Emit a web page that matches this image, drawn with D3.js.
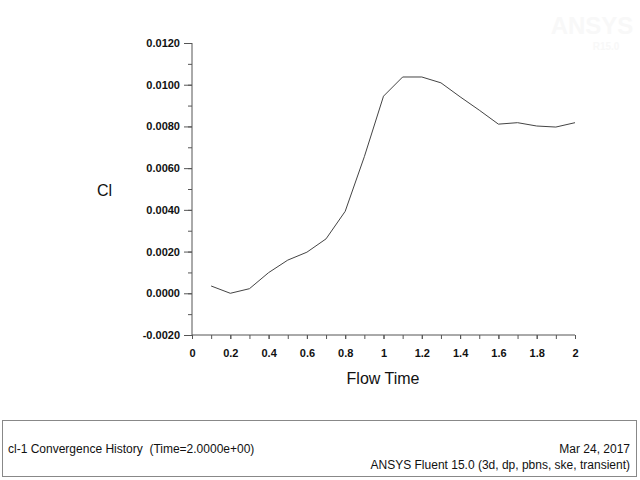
<!DOCTYPE html>
<html>
<head>
<meta charset="utf-8">
<script src="https://cdn.jsdelivr.net/npm/d3@7"></script>
<style>
  body { margin: 0; background: #fff; }
  text { font-family: "Liberation Sans", Arial, sans-serif; }
</style>
</head>
<body>
<svg id="chart" width="640" height="480"></svg>
<script>
// cl-1 history
var flowTime = [0.1, 0.2, 0.3, 0.4, 0.5, 0.6, 0.7, 0.8, 0.9, 1.0,
                1.1, 1.2, 1.3, 1.4, 1.5, 1.6, 1.7, 1.8, 1.9, 2.0];
var clValues = [0.00035, 0.0000, 0.00022, 0.00099, 0.00159, 0.00197, 0.00261, 0.00393, 0.00655, 0.00945,
                0.01037, 0.01037, 0.01009, 0.00942, 0.00878, 0.00811, 0.00818, 0.00802, 0.00797, 0.00818];
var xTicks = [0, 0.2, 0.4, 0.6, 0.8, 1, 1.2, 1.4, 1.6, 1.8, 2];
var yTicks = [-0.002, 0, 0.002, 0.004, 0.006, 0.008, 0.010, 0.012];

var svg = d3.select('#chart');
var axisColor = '#555';

var x = d3.scaleLinear().domain([0, 2]).range([192, 575]);
var y = d3.scaleLinear().domain([-0.002, 0.012]).range([335, 43]);

// faint logo watermark
svg.append('text').attr('x', 592).attr('y', 34).attr('text-anchor', 'middle')
  .attr('font-size', 24).attr('font-weight', 'bold').attr('fill', '#f8f8f8').text('ANSYS');
svg.append('text').attr('x', 606).attr('y', 50).attr('text-anchor', 'middle')
  .attr('font-size', 10).attr('font-weight', 'bold').attr('fill', '#f8f8f8').text('R15.0');

// minor ticks
var xMinor = d3.range(0, 21).map(d => d / 10);
var yMinor = d3.range(-2, 13).map(d => d / 1000);
var fmtY = d => d3.format('.4f')(d).replace('\u2212', '-');

var gx = svg.append('g').attr('transform', 'translate(0,335)');
gx.call(d3.axisBottom(x).tickValues(xMinor).tickSize(4).tickFormat(''));
gx.append('g').call(d3.axisBottom(x).tickValues(xTicks).tickSize(4).tickPadding(10)
  .tickFormat(d3.format('~g')));
gx.selectAll('path, line').attr('stroke', axisColor);
gx.selectAll('.domain').remove();
gx.selectAll('text').attr('font-size', 11).attr('font-weight', 'bold')
  .attr('fill', '#111').attr('font-family', '"Liberation Sans", Arial, sans-serif');

var gy = svg.append('g').attr('transform', 'translate(192,0)');
gy.call(d3.axisLeft(y).tickValues(yMinor).tickSize(4).tickFormat(''));
gy.append('g').call(d3.axisLeft(y).tickValues(yTicks).tickSize(8).tickPadding(4)
  .tickFormat(fmtY));
gy.selectAll('path, line').attr('stroke', axisColor);
gy.selectAll('.domain').remove();
gy.selectAll('text').attr('font-size', 11).attr('font-weight', 'bold')
  .attr('fill', '#111').attr('font-family', '"Liberation Sans", Arial, sans-serif');

// axis lines
svg.append('line').attr('x1', 192).attr('x2', 192).attr('y1', y(0.012)).attr('y2', y(-0.002))
  .attr('stroke', axisColor);
svg.append('line').attr('x1', x(0)).attr('x2', x(2)).attr('y1', 335).attr('y2', 335)
  .attr('stroke', axisColor);

// data line
var line = d3.line().x((d, i) => x(flowTime[i])).y(d => y(d));
svg.append('path').datum(clValues).attr('d', line)
  .attr('fill', 'none').attr('stroke', '#444').attr('stroke-width', 1);

// axis titles
svg.append('text').attr('x', 97).attr('y', 196).attr('font-size', 16).attr('fill', '#111').text('Cl');
svg.append('text').attr('x', 383).attr('y', 384).attr('text-anchor', 'middle')
  .attr('font-size', 16).attr('fill', '#111').text('Flow Time');

// footer box
svg.append('rect').attr('x', 2.5).attr('y', 420.5).attr('width', 634).attr('height', 56)
  .attr('fill', 'none').attr('stroke', '#888');
svg.append('text').attr('x', 8).attr('y', 453).attr('font-size', 12).attr('fill', '#111')
  .attr('xml:space', 'preserve').style('white-space', 'pre')
  .text('cl-1 Convergence History  (Time=2.0000e+00)');
svg.append('text').attr('x', 630).attr('y', 453).attr('text-anchor', 'end').attr('font-size', 12)
  .attr('fill', '#111').text('Mar 24, 2017');
svg.append('text').attr('x', 630).attr('y', 469).attr('text-anchor', 'end').attr('font-size', 12)
  .attr('fill', '#111').text('ANSYS Fluent 15.0 (3d, dp, pbns, ske, transient)');
</script>
</body>
</html>
